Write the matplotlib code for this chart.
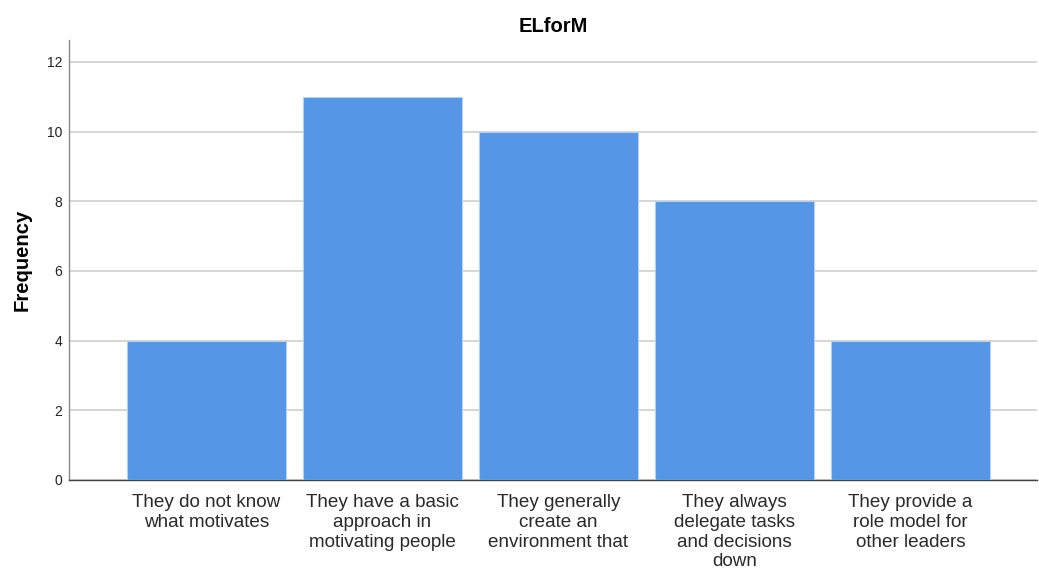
import matplotlib
matplotlib.use("Agg")
import matplotlib.pyplot as plt

categories = [
    "They do not know\nwhat motivates",
    "They have a basic\napproach in\nmotivating people",
    "They generally\ncreate an\nenvironment that",
    "They always\ndelegate tasks\nand decisions\ndown",
    "They provide a\nrole model for\nother leaders",
]
frequency = [4, 11, 10, 8, 4]
y_ticks = [0, 2, 4, 6, 8, 10, 12]

plt.rcParams["font.family"] = ["Liberation Sans", "DejaVu Sans"]

fig = plt.figure(figsize=(10.39, 5.70), dpi=100)
ax = fig.add_axes([0.0664, 0.158, 0.9317, 0.772])

x = list(range(len(categories)))
ax.bar(x, frequency, width=0.9, color="#5596e6", edgecolor="#b5d0f2",
       linewidth=0.8, zorder=3)

ax.set_xlim(-0.781, 4.72)
ax.set_ylim(0, 12.63)
ax.set_yticks(y_ticks)
ax.set_xticks(x)
ax.set_xticklabels(categories, fontsize=13.6, color="#2a2a2a", linespacing=1.22)
ax.tick_params(axis="x", length=0, pad=10)
ax.tick_params(axis="y", length=0, pad=5, labelsize=10, labelcolor="#222222")

ax.yaxis.grid(True, color="#cfcfcf", linewidth=1.2, zorder=0)
ax.set_axisbelow(True)
for s in ("top", "right"):
    ax.spines[s].set_visible(False)
ax.spines["left"].set_color("#888888")
ax.spines["bottom"].set_color("#444444")
ax.spines["left"].set_linewidth(1.0)
ax.spines["bottom"].set_linewidth(1.0)

ax.set_ylabel("Frequency", fontsize=14.6, fontweight="bold", labelpad=11)
ax.set_title("ELforM", fontsize=14.5, fontweight="bold", pad=6)

fig.savefig("out.png", dpi=100)
